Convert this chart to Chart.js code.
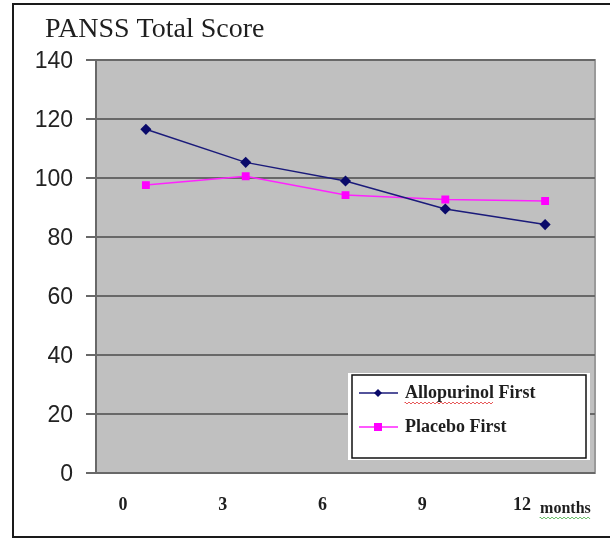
<!DOCTYPE html>
<html>
<head>
<meta charset="utf-8">
<script src="https://cdn.jsdelivr.net/npm/chart.js@4/dist/chart.umd.min.js"></script>
<style>
  html, body { margin: 0; padding: 0; background: #fff; }
  #wrap { width: 610px; height: 540px; position: relative; }
</style>
</head>
<body>
<div id="wrap"><canvas id="c" width="610" height="540"></canvas></div>
<script>
// PANSS total score by visit
const months = ['0', '3', '6', '9', '12'];
const allopurinolFirst = [116.5, 105.3, 99.0, 89.5, 84.2];
const placeboFirst = [97.6, 100.6, 94.2, 92.7, 92.2];
const yTicks = [0, 20, 40, 60, 80, 100, 120, 140];

const frame = {
  id: 'frame',
  beforeDraw(chart) {
    const { ctx, chartArea: a } = chart;
    ctx.save();
    ctx.fillStyle = '#fff';
    ctx.fillRect(0, 0, chart.width, chart.height);
    // outer border
    ctx.strokeStyle = '#1a1a1a';
    ctx.lineWidth = 2;
    ctx.beginPath();
    ctx.moveTo(610, 4);
    ctx.lineTo(13, 4);
    ctx.lineTo(13, 537);
    ctx.lineTo(610, 537);
    ctx.stroke();
    // plot background
    ctx.fillStyle = '#c0c0c0';
    ctx.fillRect(a.left, a.top, a.right - a.left, a.bottom - a.top);
    ctx.strokeStyle = '#9a9a9a';
    ctx.lineWidth = 2;
    ctx.strokeRect(a.left, a.top, a.right - a.left, a.bottom - a.top);
    // title
    ctx.fillStyle = '#1e1e1e';
    ctx.font = '28px "Liberation Serif", "DejaVu Serif", serif';
    ctx.textBaseline = 'alphabetic';
    ctx.textAlign = 'left';
    ctx.fillText('PANSS Total Score', 45, 37);
    ctx.restore();
  },
  afterDraw(chart) {
    const { ctx, chartArea: a } = chart;
    const xs = chart.scales.x;
    ctx.save();
    // unit label beside the last tick
    const lastX = xs.getPixelForValue(months.length - 1);
    ctx.font = 'bold 16px "Liberation Serif", serif';
    ctx.fillStyle = '#1e1e1e';
    ctx.textAlign = 'left';
    ctx.textBaseline = 'middle';
    const mx = lastX - 5;
    ctx.fillText('months', mx, 509);
    const mw = ctx.measureText('months').width;
    wavy(ctx, mx, mx + mw, 518, '#3aa83a');

    // legend box
    const lx = a.right - 243, ly = a.top + 315, lw = 234, lh = 83;
    ctx.fillStyle = '#fff';
    ctx.fillRect(lx - 4, ly - 2, lw + 8, lh + 4);
    ctx.strokeStyle = '#111';
    ctx.lineWidth = 1.5;
    ctx.strokeRect(lx, ly, lw, lh);
    chart.data.datasets.forEach((ds, i) => {
      const y = ly + 18 + i * 34;
      ctx.strokeStyle = ds.borderColor;
      ctx.lineWidth = 1.3;
      ctx.beginPath();
      ctx.moveTo(lx + 7, y);
      ctx.lineTo(lx + 46, y);
      ctx.stroke();
      ctx.fillStyle = ds.pointBackgroundColor;
      const cx = lx + 26;
      if (ds.pointStyle === 'rectRot') {
        ctx.beginPath();
        ctx.moveTo(cx, y - 4); ctx.lineTo(cx + 4, y); ctx.lineTo(cx, y + 4); ctx.lineTo(cx - 4, y);
        ctx.closePath(); ctx.fill();
      } else {
        ctx.fillRect(cx - 4, y - 4, 8, 8);
      }
      ctx.fillStyle = '#1e1e1e';
      ctx.font = 'bold 18px "Liberation Serif", serif';
      ctx.textAlign = 'left';
      ctx.textBaseline = 'middle';
      ctx.fillText(ds.label, lx + 53, y);
      if (i === 0) {
        const w = ctx.measureText('Allopurinol').width;
        wavy(ctx, lx + 53, lx + 53 + w, y + 10, '#e03030');
      }
    });
    ctx.restore();
  }
};

function wavy(ctx, x0, x1, y, color) {
  ctx.save();
  ctx.strokeStyle = color;
  ctx.lineWidth = 0.8;
  ctx.beginPath();
  let up = true;
  ctx.moveTo(x0, y);
  for (let x = x0; x <= x1; x += 2) {
    ctx.lineTo(x, up ? y - 1 : y + 1);
    up = !up;
  }
  ctx.stroke();
  ctx.restore();
}

new Chart(document.getElementById('c'), {
  type: 'line',
  data: {
    labels: months,
    datasets: [
      {
        label: 'Allopurinol First',
        data: allopurinolFirst,
        borderColor: '#1a1a7a',
        backgroundColor: '#0a0a6a',
        pointBackgroundColor: '#0a0a6a',
        pointBorderColor: '#0a0a6a',
        pointStyle: 'rectRot',
        pointRadius: 4.5,
        borderWidth: 1.5,
        tension: 0
      },
      {
        label: 'Placebo First',
        data: placeboFirst,
        borderColor: '#ff22ff',
        backgroundColor: '#ff00ff',
        pointBackgroundColor: '#ff00ff',
        pointBorderColor: '#ff00ff',
        pointStyle: 'rect',
        pointRadius: 4.5,
        borderWidth: 1.5,
        tension: 0
      }
    ]
  },
  options: {
    responsive: false,
    animation: false,
    events: [],
    layout: { padding: { top: 60, left: 0, right: 15, bottom: 0 } },
    plugins: { legend: { display: false }, title: { display: false }, tooltip: { enabled: false } },
    scales: {
      x: {
        offset: true,
        grid: { display: false, drawTicks: false },
        border: { display: false },
        ticks: {
          padding: 22,
          labelOffset: -23,
          color: '#1e1e1e',
          font: { family: '"Liberation Serif", serif', size: 18, weight: 'bold' }
        },
        afterFit(s) { s.height = 67; }
      },
      y: {
        min: 0,
        max: 140,
        afterBuildTicks(s) { s.ticks = yTicks.map(v => ({ value: v })); },
        grid: {
          color: '#686868',
          lineWidth: 2,
          tickLength: 10,
          drawTicks: true
        },
        border: { display: true, color: '#686868', width: 2 },
        ticks: {
          padding: 13,
          labelOffset: 2,
          color: '#222',
          font: { family: '"Liberation Sans", Arial, sans-serif', size: 23 }
        },
        afterFit(s) { s.width = 96; }
      }
    }
  },
  plugins: [frame]
});
</script>
</body>
</html>
